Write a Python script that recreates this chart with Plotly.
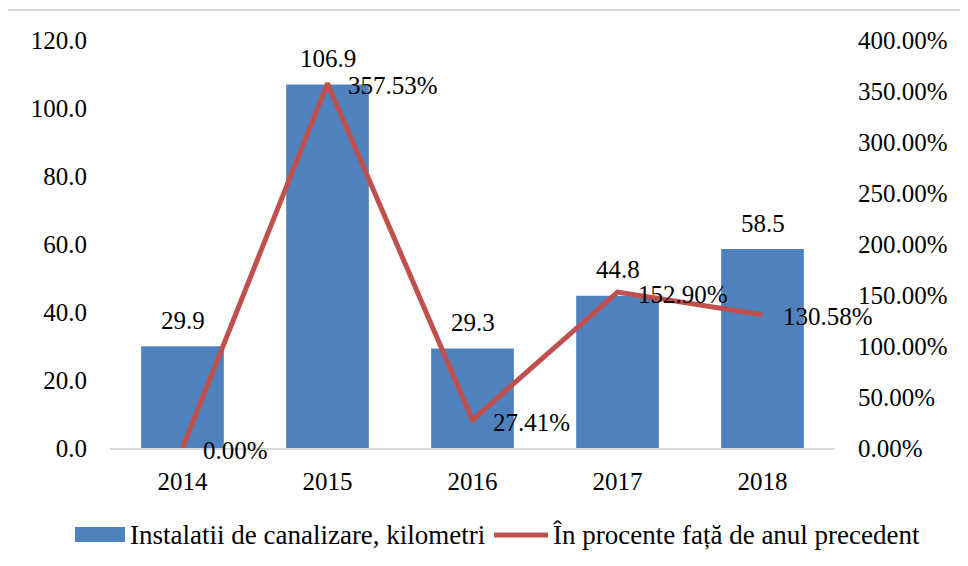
import plotly.graph_objects as go

years = ["2014", "2015", "2016", "2017", "2018"]
km_values = [29.9, 106.9, 29.3, 44.8, 58.5]
pct_values = [0.00, 357.53, 27.41, 152.90, 130.58]
bar_name = "Instalatii de canalizare, kilometri"
line_name = "În procente față de anul precedent"
left_ticks = [0, 20, 40, 60, 80, 100, 120]
right_ticks = [0, 50, 100, 150, 200, 250, 300, 350, 400]

FONT = "Times New Roman, Liberation Serif, Tinos, serif"
FS = 25
LFS = 27
BLUE = "#4F81BD"
RED = "#C0504D"

W, H = 968, 566
OFF = 8  # page body margin offset
l, r, t, b = 110 - OFF, 133 + OFF, 40 - OFF, 118 + OFF
pw = W - l - r
ph = H - t - b

def px(x):
    return (x - OFF - l) / pw

def py(y):
    return (H - b - (y - OFF)) / ph

fig = go.Figure()
fig.add_trace(go.Bar(
    x=years, y=km_values, name=bar_name,
    marker=dict(color=BLUE, line=dict(width=0)),
    showlegend=False,
))
fig.add_trace(go.Scatter(
    x=years, y=pct_values, name=line_name, yaxis="y2",
    mode="lines", line=dict(color=RED, width=5),
    showlegend=False, cliponaxis=False,
))

annotations = []
# category axes: annotations use the category index
for i, v in enumerate(km_values):
    annotations.append(dict(x=i, y=v, xref="x", yref="y", text=f"{v:.1f}",
                            showarrow=False, yanchor="middle", yshift=26,
                            font=dict(family=FONT, size=FS, color="black")))
for i, v in enumerate(pct_values):
    annotations.append(dict(x=i, y=v, xref="x", yref="y2", text=f"{v:.2f}%",
                            showarrow=False, xanchor="left", yanchor="middle",
                            xshift=18, yshift=-2,
                            font=dict(family=FONT, size=FS, color="black")))
# legend (manual)
annotations.append(dict(x=px(128), y=py(535), xref="paper", yref="paper", text=bar_name,
                        showarrow=False, xanchor="left", yanchor="middle",
                        font=dict(family=FONT, size=LFS, color="black")))
annotations.append(dict(x=px(551), y=py(535), xref="paper", yref="paper", text=line_name,
                        showarrow=False, xanchor="left", yanchor="middle",
                        font=dict(family=FONT, size=LFS, color="black")))

shapes = [
    dict(type="rect", xref="paper", yref="paper",
         x0=px(5), x1=px(990), y0=py(590), y1=py(10),
         line=dict(color="#D9D9D9", width=2), layer="below"),
    dict(type="rect", xref="paper", yref="paper",
         x0=px(75), x1=px(125), y0=py(542), y1=py(527),
         line=dict(width=0), fillcolor=BLUE),
    dict(type="line", xref="paper", yref="paper",
         x0=px(494), x1=px(548), y0=py(535), y1=py(535),
         line=dict(color=RED, width=5)),
]

fig.update_layout(
    width=W, height=H,
    margin=dict(l=l, r=r, t=t, b=b, autoexpand=False),
    paper_bgcolor="white", plot_bgcolor="white",
    font=dict(family=FONT, size=FS, color="black"),
    bargap=0.43,
    showlegend=False,
    xaxis=dict(type="category", range=[-0.5, 4.5], showgrid=False, showline=True,
               linecolor="#D9D9D9", linewidth=2,
               ticks="", tickfont=dict(family=FONT, size=FS), ticklabelstandoff=10),
    yaxis=dict(range=[0, 120], tickvals=left_ticks,
               ticktext=[f"{v:.1f}" for v in left_ticks],
               showgrid=False, zeroline=False, showline=False, ticks="",
               tickfont=dict(family=FONT, size=FS), ticklabelstandoff=22),
    yaxis2=dict(range=[0, 400], tickvals=right_ticks, overlaying="y", side="right",
                ticktext=[f"{v:.2f}%" for v in right_ticks],
                showgrid=False, zeroline=False, showline=False, ticks="",
                tickfont=dict(family=FONT, size=FS), ticklabelstandoff=22),
    annotations=annotations,
    shapes=shapes,
)

fig.write_html("out.html")
